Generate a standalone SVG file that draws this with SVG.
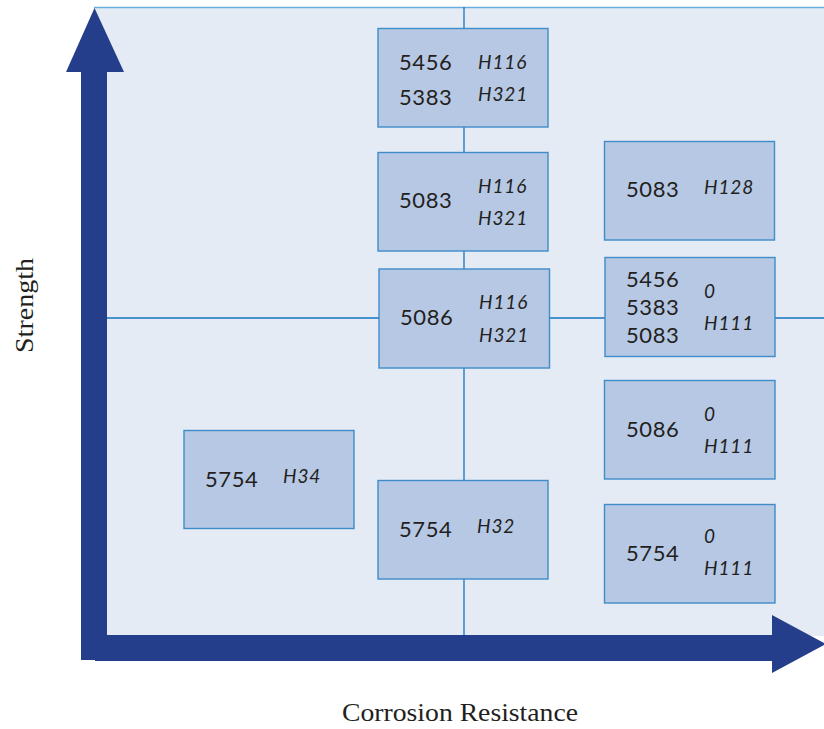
<svg xmlns="http://www.w3.org/2000/svg" width="824" height="729" viewBox="0 0 824 729">
<style>
.box{fill:#B6C8E4;stroke:#3F8CC8;stroke-width:1.4}
.grid{stroke:#1575BE;stroke-width:1.3;fill:none}
.n{font-family:Lato,"Open Sans",sans-serif;font-size:22px;fill:#231F20;letter-spacing:0.6px}
.h{font-family:Lato,"Open Sans",sans-serif;font-size:19px;font-style:italic;fill:#231F20;letter-spacing:0.9px}
.ax{font-family:"Liberation Serif","DejaVu Serif",serif;font-size:26px;fill:#231F20}
.arrow{fill:#243E8C}
</style>
<rect x="94" y="7" width="730" height="629" fill="#E4EBF5"/>
<line x1="94" y1="7.5" x2="824" y2="7.5" stroke="#6AAEDB" stroke-width="1.5"/>
<g id="connectors">
<line class="grid" x1="464" y1="7" x2="464" y2="636"/>
<line class="grid" x1="107" y1="318" x2="824" y2="318"/>
</g>
<g id="axes">
<polygon class="arrow" points="94.5,8 124,72 107,72 107,635 772,635 772,615 826,644 772,673 772,661 95,661 95,660 81,660 81,72 66,72"/>
</g>
<g id="n1"><rect class="box" x="378" y="28.5" width="170" height="98.5"/>
<text class="n" x="399" y="70">5456</text><text class="n" x="399" y="105">5383</text>
<text class="h" x="478" y="69">H116</text><text class="h" x="478" y="101">H321</text></g>
<g id="n2"><rect class="box" x="378" y="152.5" width="170" height="98.5"/>
<text class="n" x="399" y="208">5083</text>
<text class="h" x="478" y="193">H116</text><text class="h" x="478" y="225">H321</text></g>
<g id="n3"><rect class="box" x="379" y="269" width="170.5" height="99"/>
<text class="n" x="400" y="325">5086</text>
<text class="h" x="479" y="309">H116</text><text class="h" x="479" y="342">H321</text></g>
<g id="n4"><rect class="box" x="604.5" y="141.5" width="170" height="98.5"/>
<text class="n" x="626" y="197">5083</text>
<text class="h" x="704" y="194">H128</text></g>
<g id="n5"><rect class="box" x="605" y="257.5" width="170" height="99"/>
<text class="n" x="626" y="287">5456</text><text class="n" x="626" y="315">5383</text><text class="n" x="626" y="343">5083</text>
<text class="h" x="704" y="298">0</text><text class="h" x="704" y="330">H111</text></g>
<g id="n6"><rect class="box" x="604.5" y="380.5" width="170.5" height="98.5"/>
<text class="n" x="626" y="437">5086</text>
<text class="h" x="704" y="421">0</text><text class="h" x="704" y="453">H111</text></g>
<g id="n7"><rect class="box" x="604.5" y="504.5" width="170.5" height="98.5"/>
<text class="n" x="626" y="561">5754</text>
<text class="h" x="704" y="543">0</text><text class="h" x="704" y="575">H111</text></g>
<g id="n8"><rect class="box" x="184" y="430.5" width="170" height="98"/>
<text class="n" x="205" y="487">5754</text>
<text class="h" x="283" y="483">H34</text></g>
<g id="n9"><rect class="box" x="378" y="480.5" width="170" height="98.5"/>
<text class="n" x="399" y="537">5754</text>
<text class="h" x="477" y="533">H32</text></g>
<text class="ax" x="342" y="721" textLength="236" lengthAdjust="spacingAndGlyphs">Corrosion Resistance</text>
<text class="ax" transform="translate(33,353) rotate(-90)" textLength="95" lengthAdjust="spacingAndGlyphs">Strength</text>
</svg>
